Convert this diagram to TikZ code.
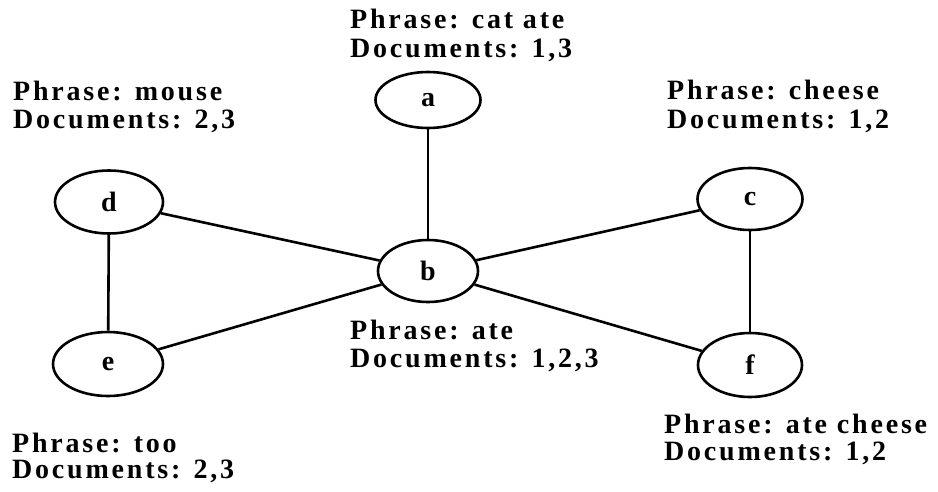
\documentclass[tikz,border=0pt]{standalone}
\usepackage{fontspec}
\setmainfont{Liberation Serif}
\newfontfamily\labfont[LetterSpace=10]{Liberation Serif}
\usetikzlibrary{shapes.geometric}
\begin{document}
\begin{tikzpicture}[x=1pt,y=-1pt,
  vtx/.style={draw,line width=2.6pt,ellipse,inner sep=0pt,font=\fontsize{28}{28}\selectfont\bfseries},
  lab/.style={anchor=base west,inner sep=0pt,font=\fontsize{28}{28}\labfont\bfseries},
  edge/.style={line width=2.6pt}]
\useasboundingbox (0,0) rectangle (938,491);
\node[vtx,minimum width=105pt,minimum height=56pt] (a) at (428,100) {a};
\node[vtx,minimum width=100pt,minimum height=62pt] (b) at (428,271) {b};
\node[vtx,minimum width=105pt,minimum height=62pt] (c) at (750,199) {c};
\node[vtx,minimum width=108pt,minimum height=63pt] (d) at (109,202) {d};
\node[vtx,minimum width=110pt,minimum height=64pt] (e) at (108,364) {e};
\node[vtx,minimum width=104pt,minimum height=64pt] (f) at (750,365) {f};
\draw[edge] (a) -- (b);
\draw[edge] (d) -- (b);
\draw[edge] (e) -- (b);
\draw[edge] (b) -- (c);
\draw[edge] (b) -- (f);
\draw[edge] (d) -- (e);
\draw[edge] (c) -- (f);
\node[lab] (la1) at (350,28) {Phrase: cat ate};
\node[lab] (la2) at (350,57) {Documents: 1,3};
\node[lab] (ld1) at (13,100) {Phrase: mouse};
\node[lab] (ld2) at (13,128) {Documents: 2,3};
\node[lab] (lc1) at (667,99) {Phrase: cheese};
\node[lab] (lc2) at (667,128) {Documents: 1,2};
\node[lab] (lb1) at (350,339) {Phrase: ate};
\node[lab] (lb2) at (350,367) {Documents: 1,2,3};
\node[lab] (le1) at (12,452) {Phrase: too};
\node[lab] (le2) at (12,478) {Documents: 2,3};
\node[lab] (lf1) at (664,433) {Phrase: ate cheese};
\node[lab] (lf2) at (664,460) {Documents: 1,2};
\end{tikzpicture}
\end{document}
